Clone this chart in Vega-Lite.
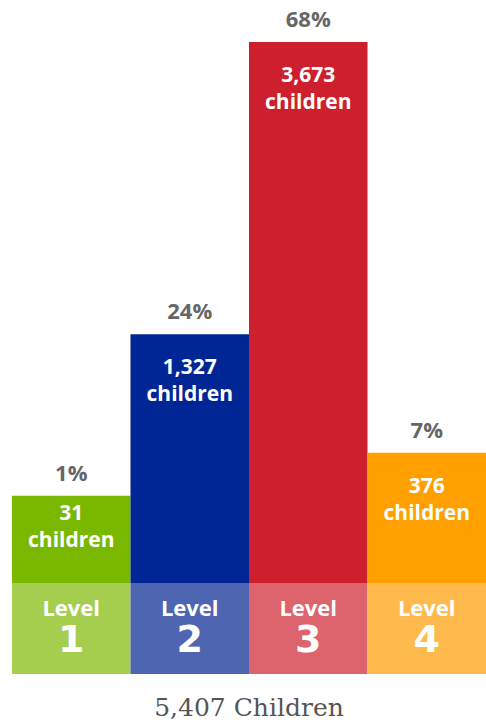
{
  "$schema": "https://vega.github.io/schema/vega-lite/v6.json",
  "width": 474,
  "height": 674,
  "autosize": {"type": "none"},
  "padding": {"left": 12, "top": 0, "right": 0, "bottom": 50},
  "background": "white",
  "config": {"view": {"stroke": null}},
  "title": {"text": "5,407 Children", "orient": "bottom", "anchor": "middle", "font": "DejaVu Serif", "fontSize": 25, "fontWeight": "normal", "color": "#555555", "offset": 22},
  "data": {"values": [
    {"level": "Level 1", "num": "1", "count": 31, "pct": "1%"},
    {"level": "Level 2", "num": "2", "count": 1327, "pct": "24%"},
    {"level": "Level 3", "num": "3", "count": 3673, "pct": "68%"},
    {"level": "Level 4", "num": "4", "count": 376, "pct": "7%"}
  ]},
  "encoding": {
    "x": {"field": "level", "type": "nominal", "sort": null, "axis": null, "scale": {"paddingInner": 0, "paddingOuter": 0}}
  },
  "layer": [
    {
      "mark": {"type": "bar"},
      "encoding": {
        "y": {"field": "count", "type": "quantitative", "axis": null, "scale": {"domain": [-1399, 4010], "zero": false, "nice": false}},
        "y2": {"datum": -669},
        "color": {"field": "level", "type": "nominal", "legend": null, "scale": {"range": ["#7AB800", "#002696", "#CD1F2E", "#FFA000"]}}
      }
    },
    {
      "mark": {"type": "bar"},
      "encoding": {
        "y": {"datum": -669},
        "y2": {"datum": -1399},
        "color": {"field": "level", "type": "nominal", "legend": null, "scale": {"range": ["#A6CE4E", "#4E66B2", "#DD636D", "#FFBA4D"]}}
      }
    },
    {
      "mark": {"type": "text", "font": "Open Sans", "fontWeight": "bold", "fontSize": 22, "color": "#666666", "baseline": "alphabetic", "dy": -15},
      "encoding": {
        "y": {"field": "count", "type": "quantitative"},
        "text": {"field": "pct"}
      }
    },
    {
      "transform": [{"filter": "datum.count > 100"}],
      "mark": {"type": "text", "font": "Open Sans", "fontWeight": "bold", "fontSize": 21, "color": "white", "baseline": "alphabetic", "dy": 40},
      "encoding": {
        "y": {"field": "count", "type": "quantitative"},
        "text": {"field": "count", "type": "quantitative", "format": ","}
      }
    },
    {
      "transform": [{"filter": "datum.count > 100"}],
      "mark": {"type": "text", "font": "Open Sans", "fontWeight": "bold", "fontSize": 21, "color": "white", "baseline": "alphabetic", "dy": 67},
      "encoding": {
        "y": {"field": "count", "type": "quantitative"},
        "text": {"value": "children"}
      }
    },
    {
      "transform": [{"filter": "datum.count <= 100"}],
      "mark": {"type": "text", "font": "Open Sans", "fontWeight": "bold", "fontSize": 21, "color": "white", "baseline": "alphabetic", "dy": 24},
      "encoding": {
        "y": {"field": "count", "type": "quantitative"},
        "text": {"field": "count", "type": "quantitative", "format": ","}
      }
    },
    {
      "transform": [{"filter": "datum.count <= 100"}],
      "mark": {"type": "text", "font": "Open Sans", "fontWeight": "bold", "fontSize": 21, "color": "white", "baseline": "alphabetic", "dy": 51},
      "encoding": {
        "y": {"field": "count", "type": "quantitative"},
        "text": {"value": "children"}
      }
    },
    {
      "mark": {"type": "text", "font": "Open Sans", "fontWeight": "bold", "fontSize": 22, "color": "white", "baseline": "alphabetic", "dy": 33},
      "encoding": {
        "y": {"datum": -669},
        "text": {"value": "Level"}
      }
    },
    {
      "mark": {"type": "text", "font": "DejaVu Sans", "fontWeight": "bold", "fontSize": 38, "color": "white", "baseline": "alphabetic", "dy": 69},
      "encoding": {
        "y": {"datum": -669},
        "text": {"field": "num"}
      }
    }
  ],
  "resolve": {"scale": {"color": "independent"}}
}
